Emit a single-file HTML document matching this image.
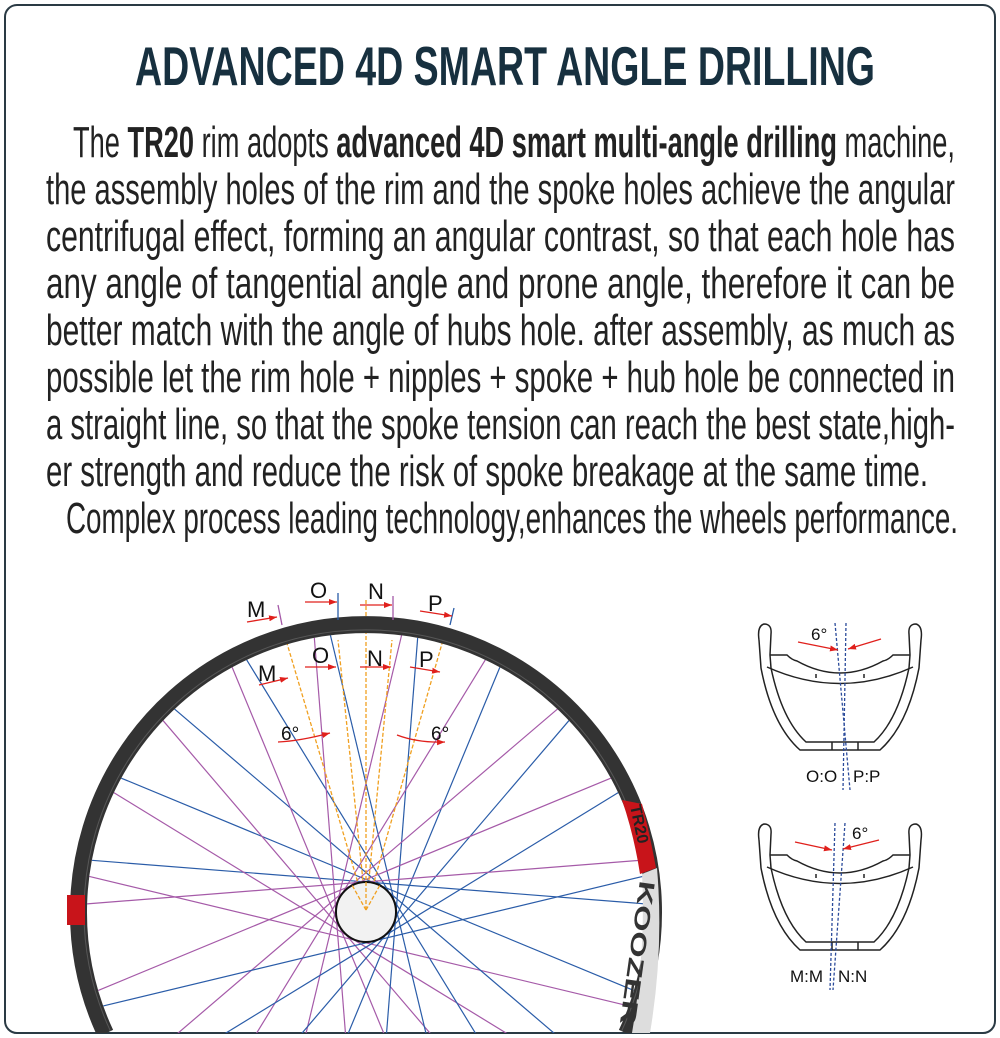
<!DOCTYPE html>
<html><head><meta charset="utf-8"><style>
html,body{margin:0;padding:0;background:#fff;width:1000px;height:1038px;overflow:hidden;}
svg{display:block;}
</style></head><body>
<svg id="s" width="1000" height="1038" viewBox="0 0 1000 1038" xmlns="http://www.w3.org/2000/svg">
<defs>
<clipPath id="fr"><rect x="5" y="5" width="990" height="1028" rx="12"/></clipPath>
<marker id="ar" markerWidth="8" markerHeight="6" refX="8" refY="3" orient="auto" markerUnits="userSpaceOnUse"><path d="M0,0 L8,3 L0,6z" fill="#e0201c"/></marker>
</defs>
<rect x="5" y="5" width="990" height="1028" rx="12" fill="#fff" stroke="#2a3a44" stroke-width="2"/>
<text x="135" y="85" font-family="Liberation Sans, sans-serif" font-weight="bold" font-size="55" fill="#17303f" textLength="740" lengthAdjust="spacingAndGlyphs">ADVANCED 4D SMART ANGLE DRILLING</text>
<g font-family="Liberation Sans, sans-serif" font-size="44" fill="#222">
<text x="73" y="157" textLength="882" lengthAdjust="spacingAndGlyphs">The <tspan font-weight="bold">TR20</tspan> rim adopts <tspan font-weight="bold">advanced 4D smart multi-angle drilling</tspan> machine,</text>
<text x="46" y="204" textLength="909" lengthAdjust="spacingAndGlyphs">the assembly holes of the rim and the spoke holes achieve the angular</text>
<text x="46" y="251" textLength="909" lengthAdjust="spacingAndGlyphs">centrifugal effect, forming an angular contrast, so that each hole has</text>
<text x="46" y="298" textLength="909" lengthAdjust="spacingAndGlyphs">any angle of tangential angle and prone angle, therefore it can be</text>
<text x="46" y="345" textLength="909" lengthAdjust="spacingAndGlyphs">better match with the angle of hubs  hole. after assembly, as much as</text>
<text x="46" y="392" textLength="909" lengthAdjust="spacingAndGlyphs">possible let the rim hole + nipples + spoke + hub hole be connected in</text>
<text x="46" y="439" textLength="909" lengthAdjust="spacingAndGlyphs">a straight line, so that the spoke tension can reach the best state,high-</text>
<text x="46" y="486" textLength="882" lengthAdjust="spacingAndGlyphs">er strength and reduce the risk of spoke breakage at the same time.</text>
<text x="66" y="533" textLength="892" lengthAdjust="spacingAndGlyphs">Complex process leading technology,enhances the wheels performance.</text>
</g>
<g clip-path="url(#fr)">
<g id="spokes" stroke-width="1.2"></g>
<g stroke="#f0a020" stroke-width="1.3" stroke-dasharray="4,2" fill="none">
<line x1="366" y1="910" x2="286" y2="640"/>
<line x1="366" y1="910" x2="338" y2="640"/>
<line x1="366" y1="910" x2="366" y2="600"/>
<line x1="366" y1="910" x2="392" y2="640"/>
<line x1="366" y1="910" x2="443" y2="640"/>
</g>
<path d="M105.4,1033.5 A287.5,287.5 0 1 1 626.6,1033.5" fill="none" stroke="#333" stroke-width="17"/>
<path d="M110.4,1031 A282,282 0 1 1 621.6,1031" fill="none" stroke="#666" stroke-width="1" opacity="0.7"/>
<rect x="67" y="895" width="18" height="30" fill="#c8141a"/>
<path d="M622,800 L642,804 Q650,835 656,868 L640,874 Q634,835 622,800z" fill="#c8141a"/>
<text x="0" y="0" font-family="Liberation Sans, sans-serif" font-weight="bold" font-size="16" fill="#222" transform="translate(630,806) rotate(78)">TR20</text>
<path d="M642,874 L657,868 Q664,950 650,1033 L632,1033 Q646,950 642,874z" fill="#ddd"/>
<text x="0" y="0" font-family="Liberation Sans, sans-serif" font-weight="bold" font-size="22" fill="#333" transform="translate(640,880) rotate(98)" textLength="145" lengthAdjust="spacingAndGlyphs">KOOZER</text>
<circle cx="366" cy="912" r="30" fill="#f2f2f2" stroke="#111" stroke-width="2"/>
<g stroke="#f0a020" stroke-width="1.3" stroke-dasharray="4,2"><line x1="366" y1="910" x2="352" y2="885"/><line x1="366" y1="910" x2="380" y2="885"/><line x1="366" y1="910" x2="366" y2="882"/></g>
</g>
<g stroke-width="1.3">
<line x1="278" y1="605" x2="282" y2="625" stroke="#a55aa8"/>
<line x1="338" y1="593" x2="338" y2="620" stroke="#2a5ca8"/>
<line x1="393" y1="596" x2="393" y2="620" stroke="#a55aa8"/>
<line x1="454" y1="608" x2="450" y2="625" stroke="#2a5ca8"/>
</g>
<g stroke="#e0201c" stroke-width="1.3" fill="none" marker-end="url(#ar)">
<line x1="247" y1="622" x2="277" y2="617"/>
<line x1="305" y1="602" x2="337" y2="602"/>
<line x1="360" y1="605" x2="392" y2="605"/>
<line x1="420" y1="611" x2="452" y2="616"/>
<line x1="259" y1="685" x2="288" y2="678"/>
<line x1="305" y1="667" x2="336" y2="667"/>
<line x1="360" y1="667" x2="391" y2="667"/>
<line x1="410" y1="667" x2="440" y2="672"/>
<path d="M278,742 Q300,741 330,733"/>
<path d="M397,735 Q418,743 445,742"/>
</g>
<g font-family="Liberation Sans, sans-serif" font-size="22" fill="#111">
<text x="247" y="617">M</text><text x="310" y="598">O</text><text x="368" y="599">N</text><text x="428" y="611">P</text>
<text x="258" y="681">M</text><text x="312" y="663">O</text><text x="367" y="666">N</text><text x="419" y="667">P</text>
<text x="281" y="740" font-size="19">6°</text><text x="431" y="740" font-size="19">6°</text>
</g>
<g id="prof" fill="none" stroke="#222" stroke-width="1.5">
<path d="M759,640 Q757,626 764,624 Q772,624 771,634 L770,655"/>
<path d="M759,640 L761,668 Q772,725 800,750 L880,750 Q908,725 919,668 L921,640 Q923,626 916,624 Q908,624 909,634 L910,655"/>
<path d="M770,655 L771,668 Q782,720 806,742 L874,742 Q898,720 909,668 L910,655"/>
<path d="M770,655 L787,655 Q792,660 797,661 Q840,685 883,661 Q888,660 893,655 L910,655"/>
<path d="M767,667 Q840,700 913,667"/>
<line x1="832" y1="742" x2="832" y2="750"/><line x1="858" y1="742" x2="858" y2="750"/>
<line x1="816" y1="674" x2="816" y2="678"/><line x1="864" y1="674" x2="864" y2="678"/>
</g>
<use href="#prof" transform="translate(0,200)"/>
<g stroke="#2a4a9a" stroke-width="1.3" stroke-dasharray="3,2">
<line x1="835" y1="623" x2="850" y2="790"/><line x1="846" y1="623" x2="843" y2="790"/>
<line x1="835" y1="823" x2="830" y2="990"/><line x1="845" y1="823" x2="833" y2="990"/>
</g>
<g stroke="#e0201c" stroke-width="1.3" marker-end="url(#ar)">
<line x1="798" y1="642" x2="838" y2="650"/><line x1="881" y1="639" x2="848" y2="649"/>
<line x1="795" y1="842" x2="832" y2="850"/><line x1="879" y1="840" x2="843" y2="849"/>
</g>
<g font-family="Liberation Sans, sans-serif" font-size="17" fill="#111">
<text x="811" y="640">6°</text><text x="852" y="839">6°</text>
<text x="806" y="782">O:O</text><text x="853" y="782">P:P</text>
<text x="790" y="982">M:M</text><text x="838" y="982">N:N</text>
</g>
</svg>
<script>
(function(){
var g=document.getElementById('spokes'),cx=366,cy=912,R=279,d=30,ns='http://www.w3.org/2000/svg',Y=1034;
for(var i=0;i<20;i++){
 var a=(i*9+4.5)*Math.PI/180;
 var ux=Math.cos(a),uy=Math.sin(a),nx=-uy,ny=ux;
 var s=(i%2?1:-1)*d;
 var px=cx+nx*s,py=cy+ny*s,t=Math.sqrt(R*R-d*d);
 var x1=px-ux*t,y1=py-uy*t,x2=px+ux*t,y2=py+uy*t;
 if(y1>Y){var k=(Y-y2)/(y1-y2);x1=x2+(x1-x2)*k;y1=Y;}
 if(y2>Y){var k2=(Y-y1)/(y2-y1);x2=x1+(x2-x1)*k2;y2=Y;}
 var l=document.createElementNS(ns,'line');
 l.setAttribute('x1',x1);l.setAttribute('y1',y1);
 l.setAttribute('x2',x2);l.setAttribute('y2',y2);
 l.setAttribute('stroke',i%2?'#a55aa8':'#2a5ca8');
 g.appendChild(l);
}
})();
</script>
</body></html>
